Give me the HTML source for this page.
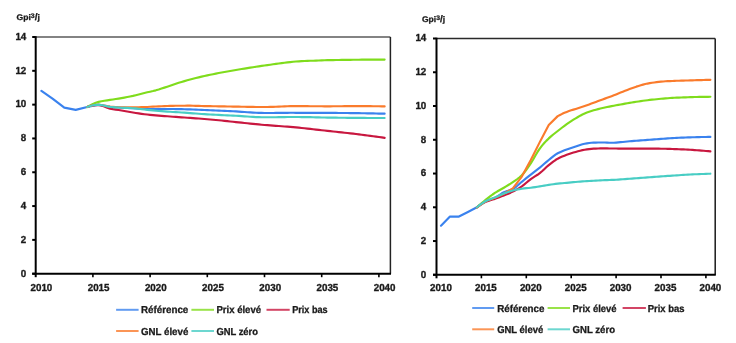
<!DOCTYPE html>
<html><head><meta charset="utf-8"><style>
html,body{margin:0;padding:0;background:#fff;width:736px;height:343px;overflow:hidden}
svg{display:block;will-change:transform;text-rendering:geometricPrecision}
.t{font-family:"Liberation Sans", sans-serif;font-weight:bold;font-size:10.2px;fill:#1a1a1a;stroke:#1a1a1a;stroke-width:0.35px}
.l{font-family:"Liberation Sans", sans-serif;font-weight:bold;font-size:10.15px;fill:#1a1a1a;stroke:#1a1a1a;stroke-width:0.3px}
.g{font-family:"Liberation Sans", sans-serif;font-weight:bold;font-size:8.2px;fill:#1a1a1a;stroke:#1a1a1a;stroke-width:0.3px}
</style></head><body>
<svg width="736" height="343" viewBox="0 0 736 343">
<line x1="35.7" y1="37.0" x2="390.4" y2="37.0" stroke="#5a5a5a" stroke-width="1.7"/>
<line x1="390.4" y1="37.0" x2="390.4" y2="273.7" stroke="#222" stroke-width="1.5"/>
<line x1="35.7" y1="36.2" x2="35.7" y2="277.2" stroke="#000" stroke-width="2"/>
<line x1="32.2" y1="273.7" x2="391.0" y2="273.7" stroke="#000" stroke-width="2"/>
<line x1="32.2" y1="273.70" x2="35.7" y2="273.70" stroke="#000" stroke-width="2"/>
<line x1="32.2" y1="239.89" x2="35.7" y2="239.89" stroke="#000" stroke-width="2"/>
<line x1="32.2" y1="206.07" x2="35.7" y2="206.07" stroke="#000" stroke-width="2"/>
<line x1="32.2" y1="172.26" x2="35.7" y2="172.26" stroke="#000" stroke-width="2"/>
<line x1="32.2" y1="138.44" x2="35.7" y2="138.44" stroke="#000" stroke-width="2"/>
<line x1="32.2" y1="104.63" x2="35.7" y2="104.63" stroke="#000" stroke-width="2"/>
<line x1="32.2" y1="70.81" x2="35.7" y2="70.81" stroke="#000" stroke-width="2"/>
<line x1="32.2" y1="37.00" x2="35.7" y2="37.00" stroke="#000" stroke-width="2"/>
<line x1="92.90" y1="273.7" x2="92.90" y2="277.2" stroke="#000" stroke-width="1.6"/>
<line x1="150.10" y1="273.7" x2="150.10" y2="277.2" stroke="#000" stroke-width="1.6"/>
<line x1="207.30" y1="273.7" x2="207.30" y2="277.2" stroke="#000" stroke-width="1.6"/>
<line x1="264.50" y1="273.7" x2="264.50" y2="277.2" stroke="#000" stroke-width="1.6"/>
<line x1="321.70" y1="273.7" x2="321.70" y2="277.2" stroke="#000" stroke-width="1.6"/>
<line x1="378.90" y1="273.7" x2="378.90" y2="277.2" stroke="#000" stroke-width="1.6"/>
<text x="26.3" y="276.50" text-anchor="end" class="t" textLength="5.45" lengthAdjust="spacingAndGlyphs">0</text>
<text x="26.3" y="242.69" text-anchor="end" class="t" textLength="5.45" lengthAdjust="spacingAndGlyphs">2</text>
<text x="26.3" y="208.87" text-anchor="end" class="t" textLength="5.45" lengthAdjust="spacingAndGlyphs">4</text>
<text x="26.3" y="175.06" text-anchor="end" class="t" textLength="5.45" lengthAdjust="spacingAndGlyphs">6</text>
<text x="26.3" y="141.24" text-anchor="end" class="t" textLength="5.45" lengthAdjust="spacingAndGlyphs">8</text>
<text x="26.3" y="107.43" text-anchor="end" class="t" textLength="10.90" lengthAdjust="spacingAndGlyphs">10</text>
<text x="26.3" y="73.61" text-anchor="end" class="t" textLength="10.90" lengthAdjust="spacingAndGlyphs">12</text>
<text x="26.3" y="39.80" text-anchor="end" class="t" textLength="10.90" lengthAdjust="spacingAndGlyphs">14</text>
<text x="41.42" y="291.4" text-anchor="middle" class="t" textLength="21.80" lengthAdjust="spacingAndGlyphs">2010</text>
<text x="98.62" y="291.4" text-anchor="middle" class="t" textLength="21.80" lengthAdjust="spacingAndGlyphs">2015</text>
<text x="155.82" y="291.4" text-anchor="middle" class="t" textLength="21.80" lengthAdjust="spacingAndGlyphs">2020</text>
<text x="213.02" y="291.4" text-anchor="middle" class="t" textLength="21.80" lengthAdjust="spacingAndGlyphs">2025</text>
<text x="270.22" y="291.4" text-anchor="middle" class="t" textLength="21.80" lengthAdjust="spacingAndGlyphs">2030</text>
<text x="327.42" y="291.4" text-anchor="middle" class="t" textLength="21.80" lengthAdjust="spacingAndGlyphs">2035</text>
<text x="384.62" y="291.4" text-anchor="middle" class="t" textLength="21.80" lengthAdjust="spacingAndGlyphs">2040</text>
<path d="M41.42,90.93 L52.86,98.88 L64.30,107.67 L75.74,109.87 L87.18,107.00 L98.62,104.63 L101.48,105.36 L104.34,106.00 L107.20,106.53 L110.06,106.91 L112.92,107.17 L115.78,107.38 L118.64,107.55 L121.50,107.71 L124.36,107.84 L127.22,107.95 L130.08,108.06 L132.94,108.20 L135.80,108.40 L138.66,108.66 L141.52,108.89 L144.38,108.99 L147.24,109.00 L150.10,109.00 L152.96,109.01 L155.82,109.01 L158.68,109.01 L161.54,109.01 L164.40,109.01 L167.26,109.01 L170.12,109.02 L172.98,109.05 L175.84,109.08 L178.70,109.13 L181.56,109.18 L184.42,109.24 L187.28,109.31 L190.14,109.40 L193.00,109.49 L195.86,109.61 L198.72,109.73 L201.58,109.85 L204.44,109.98 L207.30,110.10 L210.16,110.23 L213.02,110.36 L215.88,110.49 L218.74,110.62 L221.60,110.75 L224.46,110.88 L227.32,111.02 L230.18,111.15 L233.04,111.29 L235.90,111.44 L238.76,111.62 L241.62,111.81 L244.48,112.01 L247.34,112.20 L250.20,112.40 L253.06,112.61 L255.92,112.78 L258.78,112.88 L261.64,112.92 L264.50,112.95 L267.36,112.97 L270.22,112.98 L273.08,112.97 L275.94,112.94 L278.80,112.91 L281.66,112.88 L284.52,112.85 L287.38,112.83 L290.24,112.80 L293.10,112.79 L295.96,112.80 L298.82,112.80 L301.68,112.81 L304.54,112.81 L307.40,112.82 L310.26,112.83 L313.12,112.84 L315.98,112.85 L318.84,112.86 L321.70,112.87 L324.56,112.88 L327.42,112.90 L330.28,112.91 L333.14,112.93 L336.00,112.94 L338.86,112.96 L341.72,112.99 L344.58,113.02 L347.44,113.05 L350.30,113.08 L353.16,113.11 L356.02,113.14 L358.88,113.18 L361.74,113.22 L364.60,113.26 L367.46,113.32 L370.32,113.38 L373.18,113.44 L376.04,113.50 L378.90,113.56 L381.76,113.62 L384.62,113.69" fill="none" stroke="#3a82ee" stroke-width="2.15" stroke-linejoin="round" stroke-linecap="round"/>
<path d="M87.18,107.00 L90.04,105.40 L92.90,103.97 L95.76,102.78 L98.62,101.89 L101.48,101.26 L104.34,100.77 L107.20,100.34 L110.06,99.89 L112.92,99.44 L115.78,99.01 L118.64,98.57 L121.50,98.10 L124.36,97.60 L127.22,97.06 L130.08,96.49 L132.94,95.89 L135.80,95.21 L138.66,94.47 L141.52,93.71 L144.38,92.98 L147.24,92.32 L150.10,91.70 L152.96,91.06 L155.82,90.34 L158.68,89.51 L161.54,88.59 L164.40,87.63 L167.26,86.67 L170.12,85.72 L172.98,84.74 L175.84,83.78 L178.70,82.85 L181.56,81.97 L184.42,81.12 L187.28,80.29 L190.14,79.50 L193.00,78.75 L195.86,78.03 L198.72,77.34 L201.58,76.66 L204.44,76.01 L207.30,75.38 L210.16,74.77 L213.02,74.18 L215.88,73.61 L218.74,73.05 L221.60,72.51 L224.46,71.98 L227.32,71.47 L230.18,70.96 L233.04,70.47 L235.90,69.99 L238.76,69.51 L241.62,69.03 L244.48,68.57 L247.34,68.11 L250.20,67.66 L253.06,67.21 L255.92,66.77 L258.78,66.33 L261.64,65.91 L264.50,65.50 L267.36,65.10 L270.22,64.69 L273.08,64.29 L275.94,63.88 L278.80,63.48 L281.66,63.10 L284.52,62.74 L287.38,62.39 L290.24,62.06 L293.10,61.79 L295.96,61.55 L298.82,61.33 L301.68,61.14 L304.54,60.99 L307.40,60.89 L310.26,60.80 L313.12,60.72 L315.98,60.64 L318.84,60.52 L321.70,60.40 L324.56,60.27 L327.42,60.18 L330.28,60.11 L333.14,60.06 L336.00,60.01 L338.86,59.96 L341.72,59.92 L344.58,59.88 L347.44,59.84 L350.30,59.81 L353.16,59.77 L356.02,59.74 L358.88,59.71 L361.74,59.69 L364.60,59.67 L367.46,59.65 L370.32,59.63 L373.18,59.62 L376.04,59.62 L378.90,59.61 L381.76,59.61 L384.62,59.60" fill="none" stroke="#7fdc1c" stroke-width="2.15" stroke-linejoin="round" stroke-linecap="round"/>
<path d="M87.18,107.00 L90.04,106.05 L92.90,105.47 L95.76,105.18 L98.62,105.10 L101.48,105.54 L104.34,106.56 L107.20,107.73 L110.06,108.62 L112.92,109.15 L115.78,109.60 L118.64,110.01 L121.50,110.46 L124.36,110.98 L127.22,111.52 L130.08,112.06 L132.94,112.56 L135.80,113.01 L138.66,113.43 L141.52,113.83 L144.38,114.20 L147.24,114.53 L150.10,114.84 L152.96,115.13 L155.82,115.40 L158.68,115.64 L161.54,115.87 L164.40,116.08 L167.26,116.29 L170.12,116.50 L172.98,116.71 L175.84,116.91 L178.70,117.11 L181.56,117.31 L184.42,117.51 L187.28,117.71 L190.14,117.92 L193.00,118.12 L195.86,118.31 L198.72,118.52 L201.58,118.73 L204.44,118.96 L207.30,119.20 L210.16,119.45 L213.02,119.71 L215.88,119.98 L218.74,120.26 L221.60,120.55 L224.46,120.84 L227.32,121.14 L230.18,121.45 L233.04,121.77 L235.90,122.08 L238.76,122.38 L241.62,122.69 L244.48,123.00 L247.34,123.29 L250.20,123.59 L253.06,123.88 L255.92,124.17 L258.78,124.44 L261.64,124.70 L264.50,124.95 L267.36,125.19 L270.22,125.42 L273.08,125.64 L275.94,125.84 L278.80,126.05 L281.66,126.25 L284.52,126.46 L287.38,126.68 L290.24,126.90 L293.10,127.13 L295.96,127.39 L298.82,127.67 L301.68,127.96 L304.54,128.26 L307.40,128.58 L310.26,128.90 L313.12,129.24 L315.98,129.57 L318.84,129.89 L321.70,130.22 L324.56,130.55 L327.42,130.87 L330.28,131.18 L333.14,131.49 L336.00,131.79 L338.86,132.10 L341.72,132.41 L344.58,132.72 L347.44,133.03 L350.30,133.35 L353.16,133.68 L356.02,134.02 L358.88,134.37 L361.74,134.72 L364.60,135.09 L367.46,135.46 L370.32,135.84 L373.18,136.23 L376.04,136.62 L378.90,137.02 L381.76,137.43 L384.62,137.85" fill="none" stroke="#c8173f" stroke-width="2.15" stroke-linejoin="round" stroke-linecap="round"/>
<path d="M87.18,107.00 L90.04,106.02 L92.90,105.30 L95.76,104.85 L98.62,104.70 L101.48,104.95 L104.34,105.52 L107.20,106.17 L110.06,106.61 L112.92,106.85 L115.78,107.06 L118.64,107.21 L121.50,107.30 L124.36,107.34 L127.22,107.37 L130.08,107.39 L132.94,107.40 L135.80,107.37 L138.66,107.29 L141.52,107.19 L144.38,107.08 L147.24,106.95 L150.10,106.79 L152.96,106.62 L155.82,106.47 L158.68,106.33 L161.54,106.20 L164.40,106.08 L167.26,105.98 L170.12,105.89 L172.98,105.81 L175.84,105.74 L178.70,105.71 L181.56,105.70 L184.42,105.70 L187.28,105.69 L190.14,105.69 L193.00,105.73 L195.86,105.81 L198.72,105.91 L201.58,106.00 L204.44,106.07 L207.30,106.13 L210.16,106.19 L213.02,106.25 L215.88,106.30 L218.74,106.35 L221.60,106.39 L224.46,106.44 L227.32,106.48 L230.18,106.52 L233.04,106.56 L235.90,106.61 L238.76,106.66 L241.62,106.71 L244.48,106.76 L247.34,106.81 L250.20,106.86 L253.06,106.92 L255.92,106.96 L258.78,106.98 L261.64,106.98 L264.50,106.96 L267.36,106.95 L270.22,106.93 L273.08,106.86 L275.94,106.74 L278.80,106.59 L281.66,106.47 L284.52,106.36 L287.38,106.24 L290.24,106.15 L293.10,106.12 L295.96,106.12 L298.82,106.13 L301.68,106.14 L304.54,106.15 L307.40,106.17 L310.26,106.20 L313.12,106.23 L315.98,106.25 L318.84,106.27 L321.70,106.29 L324.56,106.30 L327.42,106.30 L330.28,106.30 L333.14,106.28 L336.00,106.26 L338.86,106.23 L341.72,106.21 L344.58,106.18 L347.44,106.15 L350.30,106.13 L353.16,106.12 L356.02,106.11 L358.88,106.10 L361.74,106.10 L364.60,106.11 L367.46,106.13 L370.32,106.17 L373.18,106.20 L376.04,106.24 L378.90,106.28 L381.76,106.33 L384.62,106.39" fill="none" stroke="#fa7b2c" stroke-width="2.15" stroke-linejoin="round" stroke-linecap="round"/>
<path d="M87.18,107.00 L90.04,106.00 L92.90,105.29 L95.76,104.86 L98.62,104.71 L101.48,105.00 L104.34,105.67 L107.20,106.40 L110.06,106.91 L112.92,107.17 L115.78,107.38 L118.64,107.55 L121.50,107.71 L124.36,107.83 L127.22,107.94 L130.08,108.05 L132.94,108.20 L135.80,108.44 L138.66,108.79 L141.52,109.17 L144.38,109.51 L147.24,109.83 L150.10,110.13 L152.96,110.43 L155.82,110.70 L158.68,110.95 L161.54,111.19 L164.40,111.41 L167.26,111.61 L170.12,111.80 L172.98,111.96 L175.84,112.13 L178.70,112.30 L181.56,112.49 L184.42,112.69 L187.28,112.89 L190.14,113.10 L193.00,113.32 L195.86,113.55 L198.72,113.77 L201.58,113.98 L204.44,114.16 L207.30,114.33 L210.16,114.48 L213.02,114.64 L215.88,114.78 L218.74,114.92 L221.60,115.06 L224.46,115.20 L227.32,115.33 L230.18,115.46 L233.04,115.60 L235.90,115.75 L238.76,115.93 L241.62,116.13 L244.48,116.33 L247.34,116.51 L250.20,116.71 L253.06,116.91 L255.92,117.08 L258.78,117.17 L261.64,117.21 L264.50,117.25 L267.36,117.27 L270.22,117.28 L273.08,117.26 L275.94,117.22 L278.80,117.17 L281.66,117.12 L284.52,117.09 L287.38,117.05 L290.24,117.02 L293.10,117.00 L295.96,117.01 L298.82,117.03 L301.68,117.06 L304.54,117.09 L307.40,117.13 L310.26,117.19 L313.12,117.26 L315.98,117.33 L318.84,117.39 L321.70,117.45 L324.56,117.51 L327.42,117.56 L330.28,117.61 L333.14,117.65 L336.00,117.68 L338.86,117.71 L341.72,117.75 L344.58,117.78 L347.44,117.81 L350.30,117.83 L353.16,117.86 L356.02,117.88 L358.88,117.90 L361.74,117.92 L364.60,117.93 L367.46,117.95 L370.32,117.96 L373.18,117.97 L376.04,117.98 L378.90,117.99 L381.76,118.00 L384.62,118.00" fill="none" stroke="#48cdc4" stroke-width="2.15" stroke-linejoin="round" stroke-linecap="round"/>
<line x1="116.1" y1="309.8" x2="138.6" y2="309.8" stroke="#3a82ee" stroke-width="2.0" stroke-opacity="0.8"/>
<text x="141" y="313.40" class="l" textLength="47.3" lengthAdjust="spacingAndGlyphs">Référence</text>
<line x1="191.4" y1="309.8" x2="214" y2="309.8" stroke="#7fdc1c" stroke-width="2.0" stroke-opacity="0.8"/>
<text x="216.4" y="313.40" class="l" textLength="44.7" lengthAdjust="spacingAndGlyphs">Prix élevé</text>
<line x1="266.5" y1="309.8" x2="289.7" y2="309.8" stroke="#c8173f" stroke-width="2.0" stroke-opacity="0.8"/>
<text x="292.2" y="313.40" class="l" textLength="35.4" lengthAdjust="spacingAndGlyphs">Prix bas</text>
<line x1="116.1" y1="331" x2="138.6" y2="331" stroke="#fa7b2c" stroke-width="2.0" stroke-opacity="0.8"/>
<text x="141" y="334.60" class="l" textLength="47.3" lengthAdjust="spacingAndGlyphs">GNL élevé</text>
<line x1="191.4" y1="331" x2="214" y2="331" stroke="#48cdc4" stroke-width="2.0" stroke-opacity="0.8"/>
<text x="216.4" y="334.60" class="l" textLength="41.6" lengthAdjust="spacingAndGlyphs">GNL zéro</text>
<text x="16.6" y="19.8" class="g" textLength="23.3" lengthAdjust="spacingAndGlyphs">Gpi<tspan dy="-1.6" font-size="6.6">3</tspan><tspan dy="1.6" font-size="9.6">/</tspan>j</text>
<line x1="436.5" y1="38.5" x2="715.2" y2="38.5" stroke="#2a2a2a" stroke-width="1.7"/>
<line x1="715.2" y1="38.5" x2="715.2" y2="274.8" stroke="#1a1a1a" stroke-width="1.5"/>
<line x1="436.5" y1="37.7" x2="436.5" y2="278.3" stroke="#000" stroke-width="2"/>
<line x1="433.0" y1="274.8" x2="715.8000000000001" y2="274.8" stroke="#000" stroke-width="2"/>
<line x1="433.0" y1="274.80" x2="436.5" y2="274.80" stroke="#000" stroke-width="2"/>
<line x1="433.0" y1="241.04" x2="436.5" y2="241.04" stroke="#000" stroke-width="2"/>
<line x1="433.0" y1="207.29" x2="436.5" y2="207.29" stroke="#000" stroke-width="2"/>
<line x1="433.0" y1="173.53" x2="436.5" y2="173.53" stroke="#000" stroke-width="2"/>
<line x1="433.0" y1="139.77" x2="436.5" y2="139.77" stroke="#000" stroke-width="2"/>
<line x1="433.0" y1="106.01" x2="436.5" y2="106.01" stroke="#000" stroke-width="2"/>
<line x1="433.0" y1="72.26" x2="436.5" y2="72.26" stroke="#000" stroke-width="2"/>
<line x1="433.0" y1="38.50" x2="436.5" y2="38.50" stroke="#000" stroke-width="2"/>
<line x1="481.40" y1="274.8" x2="481.40" y2="278.3" stroke="#000" stroke-width="1.6"/>
<line x1="526.30" y1="274.8" x2="526.30" y2="278.3" stroke="#000" stroke-width="1.6"/>
<line x1="571.20" y1="274.8" x2="571.20" y2="278.3" stroke="#000" stroke-width="1.6"/>
<line x1="616.10" y1="274.8" x2="616.10" y2="278.3" stroke="#000" stroke-width="1.6"/>
<line x1="661.00" y1="274.8" x2="661.00" y2="278.3" stroke="#000" stroke-width="1.6"/>
<line x1="705.90" y1="274.8" x2="705.90" y2="278.3" stroke="#000" stroke-width="1.6"/>
<text x="426.3" y="277.60" text-anchor="end" class="t" textLength="5.45" lengthAdjust="spacingAndGlyphs">0</text>
<text x="426.3" y="243.84" text-anchor="end" class="t" textLength="5.45" lengthAdjust="spacingAndGlyphs">2</text>
<text x="426.3" y="210.09" text-anchor="end" class="t" textLength="5.45" lengthAdjust="spacingAndGlyphs">4</text>
<text x="426.3" y="176.33" text-anchor="end" class="t" textLength="5.45" lengthAdjust="spacingAndGlyphs">6</text>
<text x="426.3" y="142.57" text-anchor="end" class="t" textLength="5.45" lengthAdjust="spacingAndGlyphs">8</text>
<text x="426.3" y="108.81" text-anchor="end" class="t" textLength="10.90" lengthAdjust="spacingAndGlyphs">10</text>
<text x="426.3" y="75.06" text-anchor="end" class="t" textLength="10.90" lengthAdjust="spacingAndGlyphs">12</text>
<text x="426.3" y="41.30" text-anchor="end" class="t" textLength="10.90" lengthAdjust="spacingAndGlyphs">14</text>
<text x="440.99" y="291.4" text-anchor="middle" class="t" textLength="21.80" lengthAdjust="spacingAndGlyphs">2010</text>
<text x="485.89" y="291.4" text-anchor="middle" class="t" textLength="21.80" lengthAdjust="spacingAndGlyphs">2015</text>
<text x="530.79" y="291.4" text-anchor="middle" class="t" textLength="21.80" lengthAdjust="spacingAndGlyphs">2020</text>
<text x="575.69" y="291.4" text-anchor="middle" class="t" textLength="21.80" lengthAdjust="spacingAndGlyphs">2025</text>
<text x="620.59" y="291.4" text-anchor="middle" class="t" textLength="21.80" lengthAdjust="spacingAndGlyphs">2030</text>
<text x="665.49" y="291.4" text-anchor="middle" class="t" textLength="21.80" lengthAdjust="spacingAndGlyphs">2035</text>
<text x="710.39" y="291.4" text-anchor="middle" class="t" textLength="21.80" lengthAdjust="spacingAndGlyphs">2040</text>
<path d="M440.99,225.68 L449.97,216.57 L458.95,216.57 L467.93,212.01 L476.91,207.29 L485.89,201.04 L488.13,200.45 L490.38,199.69 L492.62,198.81 L494.87,197.83 L497.12,196.58 L499.36,195.05 L501.60,193.52 L503.85,192.26 L506.09,191.40 L508.34,190.71 L510.58,189.99 L512.83,189.06 L515.08,187.64 L517.32,185.78 L519.56,183.75 L521.81,181.80 L524.05,179.98 L526.30,178.15 L528.54,176.33 L530.79,174.54 L533.03,172.80 L535.28,171.10 L537.52,169.39 L539.77,167.62 L542.01,165.75 L544.26,163.81 L546.50,161.88 L548.75,160.03 L551.00,158.19 L553.24,156.36 L555.49,154.67 L557.73,153.27 L559.98,152.17 L562.22,151.22 L564.47,150.36 L566.71,149.53 L568.95,148.72 L571.20,147.96 L573.44,147.23 L575.69,146.51 L577.93,145.74 L580.18,144.97 L582.42,144.27 L584.67,143.75 L586.91,143.38 L589.16,143.05 L591.40,142.80 L593.65,142.66 L595.89,142.58 L598.14,142.51 L600.38,142.47 L602.63,142.46 L604.88,142.51 L607.12,142.62 L609.37,142.74 L611.61,142.79 L613.86,142.73 L616.10,142.56 L618.35,142.36 L620.59,142.15 L622.84,141.95 L625.08,141.72 L627.33,141.48 L629.57,141.27 L631.82,141.09 L634.06,140.92 L636.31,140.75 L638.55,140.58 L640.79,140.42 L643.04,140.25 L645.28,140.09 L647.53,139.92 L649.77,139.76 L652.02,139.59 L654.26,139.42 L656.51,139.25 L658.75,139.07 L661.00,138.90 L663.25,138.72 L665.49,138.56 L667.74,138.40 L669.98,138.24 L672.23,138.09 L674.47,137.97 L676.72,137.86 L678.96,137.77 L681.20,137.68 L683.45,137.59 L685.69,137.51 L687.94,137.43 L690.18,137.35 L692.43,137.27 L694.67,137.20 L696.92,137.13 L699.16,137.07 L701.41,137.02 L703.65,136.98 L705.90,136.95 L708.14,136.92 L710.39,136.90" fill="none" stroke="#3a82ee" stroke-width="2.15" stroke-linejoin="round" stroke-linecap="round"/>
<path d="M476.91,207.29 L479.16,205.31 L481.40,203.38 L483.65,201.51 L485.89,199.69 L488.14,197.91 L490.38,196.16 L492.62,194.49 L494.87,192.94 L497.12,191.55 L499.36,190.26 L501.61,189.01 L503.85,187.71 L506.10,186.37 L508.34,185.02 L510.59,183.62 L512.83,182.14 L515.08,180.60 L517.32,179.00 L519.57,177.24 L521.81,175.22 L524.06,172.76 L526.30,169.86 L528.55,166.69 L530.79,163.40 L533.03,159.79 L535.28,155.84 L537.52,151.95 L539.77,148.55 L542.01,145.67 L544.26,143.05 L546.50,140.64 L548.75,138.42 L551.00,136.39 L553.24,134.52 L555.49,132.75 L557.73,130.99 L559.98,129.23 L562.22,127.50 L564.47,125.81 L566.71,124.19 L568.96,122.63 L571.20,121.12 L573.45,119.68 L575.69,118.30 L577.94,116.97 L580.18,115.68 L582.42,114.49 L584.67,113.44 L586.91,112.54 L589.16,111.73 L591.40,111.00 L593.65,110.32 L595.89,109.69 L598.14,109.11 L600.38,108.56 L602.63,108.04 L604.88,107.53 L607.12,107.05 L609.37,106.58 L611.61,106.13 L613.86,105.70 L616.10,105.27 L618.35,104.86 L620.59,104.46 L622.84,104.07 L625.08,103.68 L627.33,103.30 L629.57,102.93 L631.82,102.55 L634.06,102.17 L636.31,101.81 L638.55,101.46 L640.79,101.12 L643.04,100.80 L645.28,100.49 L647.53,100.21 L649.77,99.94 L652.02,99.69 L654.26,99.46 L656.51,99.23 L658.75,99.00 L661.00,98.78 L663.25,98.58 L665.49,98.39 L667.74,98.21 L669.98,98.04 L672.23,97.89 L674.47,97.76 L676.72,97.66 L678.96,97.57 L681.20,97.49 L683.45,97.41 L685.69,97.32 L687.94,97.25 L690.18,97.17 L692.43,97.10 L694.67,97.04 L696.92,96.98 L699.16,96.92 L701.41,96.88 L703.65,96.85 L705.90,96.83 L708.14,96.81 L710.39,96.80" fill="none" stroke="#7fdc1c" stroke-width="2.15" stroke-linejoin="round" stroke-linecap="round"/>
<path d="M476.91,207.29 L479.16,205.62 L481.40,204.11 L483.65,202.79 L485.89,201.72 L488.14,200.88 L490.38,200.20 L492.62,199.55 L494.87,198.85 L497.12,198.05 L499.36,197.22 L501.61,196.36 L503.85,195.47 L506.10,194.57 L508.34,193.64 L510.59,192.65 L512.83,191.59 L515.08,190.43 L517.32,189.18 L519.57,187.82 L521.81,186.36 L524.06,184.67 L526.30,182.78 L528.55,180.86 L530.79,179.10 L533.03,177.58 L535.28,176.18 L537.52,174.77 L539.77,173.19 L542.01,171.30 L544.26,169.18 L546.50,167.04 L548.75,165.09 L551.00,163.31 L553.24,161.59 L555.49,160.02 L557.73,158.68 L559.98,157.54 L562.22,156.54 L564.47,155.64 L566.71,154.79 L568.96,154.00 L571.20,153.26 L573.45,152.57 L575.69,151.92 L577.94,151.30 L580.18,150.70 L582.42,150.16 L584.67,149.73 L586.91,149.38 L589.16,149.07 L591.40,148.82 L593.65,148.67 L595.89,148.57 L598.14,148.49 L600.38,148.43 L602.63,148.41 L604.88,148.42 L607.12,148.44 L609.37,148.47 L611.61,148.50 L613.86,148.52 L616.10,148.55 L618.35,148.57 L620.59,148.58 L622.84,148.59 L625.08,148.59 L627.33,148.60 L629.57,148.60 L631.82,148.60 L634.06,148.60 L636.31,148.60 L638.55,148.60 L640.79,148.60 L643.04,148.60 L645.28,148.60 L647.53,148.60 L649.77,148.60 L652.02,148.61 L654.26,148.62 L656.51,148.63 L658.75,148.66 L661.00,148.70 L663.25,148.75 L665.49,148.80 L667.74,148.86 L669.98,148.92 L672.23,149.00 L674.47,149.07 L676.72,149.15 L678.96,149.23 L681.20,149.31 L683.45,149.41 L685.69,149.52 L687.94,149.64 L690.18,149.77 L692.43,149.92 L694.67,150.07 L696.92,150.23 L699.16,150.40 L701.41,150.57 L703.65,150.76 L705.90,150.95 L708.14,151.14 L710.39,151.35" fill="none" stroke="#c8173f" stroke-width="2.15" stroke-linejoin="round" stroke-linecap="round"/>
<path d="M476.91,207.29 L485.89,201.04 L494.87,197.83 L503.85,193.78 L512.83,188.38 L521.81,176.57 L530.79,160.03 L539.77,142.13 L548.75,124.92 L557.73,116.14 L559.98,114.95 L562.22,113.84 L564.47,112.82 L566.71,111.89 L568.96,111.06 L571.20,110.32 L573.45,109.61 L575.69,108.90 L577.94,108.19 L580.18,107.49 L582.43,106.79 L584.67,106.05 L586.91,105.26 L589.16,104.43 L591.40,103.59 L593.65,102.76 L595.89,101.93 L598.14,101.10 L600.38,100.28 L602.63,99.45 L604.88,98.63 L607.12,97.81 L609.37,96.98 L611.61,96.14 L613.86,95.28 L616.10,94.39 L618.35,93.50 L620.59,92.61 L622.84,91.71 L625.08,90.79 L627.33,89.89 L629.57,89.03 L631.82,88.21 L634.06,87.41 L636.31,86.65 L638.55,85.95 L640.79,85.28 L643.04,84.64 L645.28,84.06 L647.53,83.57 L649.77,83.15 L652.02,82.79 L654.26,82.47 L656.51,82.18 L658.75,81.92 L661.00,81.68 L663.25,81.47 L665.49,81.30 L667.74,81.17 L669.98,81.06 L672.23,80.97 L674.47,80.88 L676.72,80.80 L678.96,80.73 L681.21,80.66 L683.45,80.60 L685.69,80.53 L687.94,80.46 L690.18,80.39 L692.43,80.33 L694.67,80.26 L696.92,80.19 L699.16,80.12 L701.41,80.06 L703.65,80.00 L705.90,79.94 L708.14,79.89 L710.39,79.84" fill="none" stroke="#fa7b2c" stroke-width="2.15" stroke-linejoin="round" stroke-linecap="round"/>
<path d="M476.91,207.29 L479.16,205.45 L481.40,203.78 L483.65,202.30 L485.89,201.04 L488.14,200.02 L490.38,199.17 L492.62,198.36 L494.87,197.50 L497.12,196.53 L499.36,195.52 L501.61,194.53 L503.85,193.61 L506.10,192.77 L508.34,191.96 L510.59,191.21 L512.83,190.58 L515.08,190.02 L517.32,189.52 L519.57,189.09 L521.81,188.72 L524.06,188.43 L526.30,188.19 L528.55,187.97 L530.79,187.71 L533.03,187.40 L535.28,187.07 L537.52,186.71 L539.77,186.36 L542.01,185.98 L544.26,185.58 L546.50,185.19 L548.75,184.84 L551.00,184.51 L553.24,184.20 L555.49,183.92 L557.73,183.66 L559.98,183.42 L562.22,183.22 L564.47,183.02 L566.71,182.81 L568.96,182.60 L571.20,182.38 L573.45,182.17 L575.69,181.97 L577.94,181.78 L580.18,181.61 L582.42,181.44 L584.67,181.29 L586.91,181.16 L589.16,181.03 L591.40,180.91 L593.65,180.79 L595.89,180.66 L598.14,180.52 L600.38,180.39 L602.63,180.28 L604.88,180.19 L607.12,180.11 L609.37,180.03 L611.61,179.94 L613.86,179.83 L616.10,179.71 L618.35,179.58 L620.59,179.44 L622.84,179.28 L625.08,179.11 L627.33,178.93 L629.57,178.76 L631.82,178.59 L634.06,178.42 L636.31,178.25 L638.55,178.09 L640.79,177.92 L643.04,177.75 L645.28,177.58 L647.53,177.41 L649.77,177.24 L652.02,177.07 L654.26,176.90 L656.51,176.74 L658.75,176.56 L661.00,176.39 L663.25,176.22 L665.49,176.06 L667.74,175.93 L669.98,175.81 L672.23,175.69 L674.47,175.55 L676.72,175.39 L678.96,175.22 L681.20,175.04 L683.45,174.88 L685.69,174.74 L687.94,174.60 L690.18,174.48 L692.43,174.37 L694.67,174.28 L696.92,174.20 L699.16,174.12 L701.41,174.03 L703.65,173.95 L705.90,173.87 L708.14,173.78 L710.39,173.70" fill="none" stroke="#48cdc4" stroke-width="2.15" stroke-linejoin="round" stroke-linecap="round"/>
<line x1="472.2" y1="308" x2="494.2" y2="308" stroke="#3a82ee" stroke-width="2.0" stroke-opacity="0.8"/>
<text x="497.2" y="311.60" class="l" textLength="47.2" lengthAdjust="spacingAndGlyphs">Référence</text>
<line x1="547.6" y1="308" x2="570" y2="308" stroke="#7fdc1c" stroke-width="2.0" stroke-opacity="0.8"/>
<text x="572.5" y="311.60" class="l" textLength="44" lengthAdjust="spacingAndGlyphs">Prix élevé</text>
<line x1="622.6" y1="308" x2="645.9" y2="308" stroke="#c8173f" stroke-width="2.0" stroke-opacity="0.8"/>
<text x="647.7" y="311.60" class="l" textLength="36.7" lengthAdjust="spacingAndGlyphs">Prix bas</text>
<line x1="472.2" y1="329.3" x2="494.2" y2="329.3" stroke="#fa7b2c" stroke-width="2.0" stroke-opacity="0.8"/>
<text x="497.2" y="332.90" class="l" textLength="46" lengthAdjust="spacingAndGlyphs">GNL élevé</text>
<line x1="547.6" y1="329.3" x2="570" y2="329.3" stroke="#48cdc4" stroke-width="2.0" stroke-opacity="0.8"/>
<text x="572.5" y="332.90" class="l" textLength="42.5" lengthAdjust="spacingAndGlyphs">GNL zéro</text>
<text x="422" y="21.8" class="g" textLength="23.1" lengthAdjust="spacingAndGlyphs">Gpi<tspan dy="-1.6" font-size="6.6">3</tspan><tspan dy="1.6" font-size="9.6">/</tspan>j</text>
</svg>
</body></html>
